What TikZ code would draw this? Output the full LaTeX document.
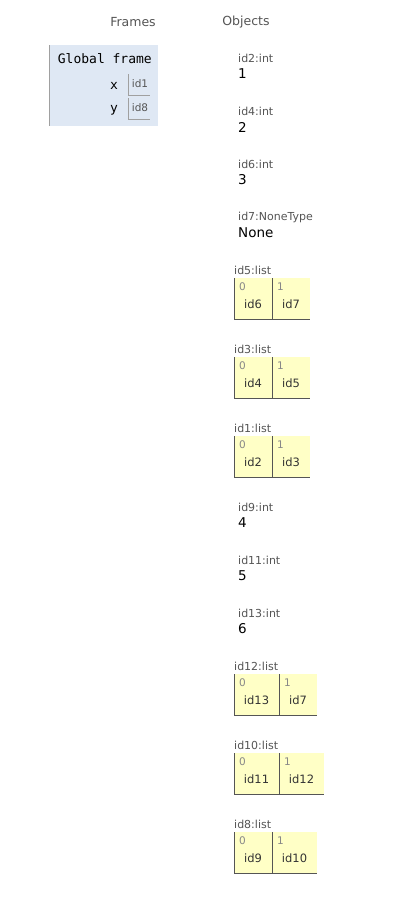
\documentclass[tikz,border=0pt]{standalone}
\usepackage{fontspec}
\setmainfont{DejaVu Sans}
\setmonofont{DejaVu Sans Mono}
\definecolor{framebg}{HTML}{DFE8F4}
\definecolor{framebd}{HTML}{A0A0A0}
\definecolor{listbg}{HTML}{FFFFC6}
\definecolor{listbd}{HTML}{555555}
\definecolor{lblgray}{HTML}{555555}
\definecolor{idxgray}{HTML}{888888}
\definecolor{refbd}{HTML}{A0A0A0}
\tikzset{
  hdr/.style={font=\fontsize{12.5}{14}\selectfont, text=lblgray, inner sep=0pt},
  typelbl/.style={font=\fontsize{11}{13}\selectfont, text=lblgray, anchor=west, inner sep=0pt},
  valtxt/.style={font=\fontsize{13.5}{15}\selectfont, text=black, anchor=west, inner sep=0pt},
  idxtxt/.style={font=\fontsize{10.5}{12}\selectfont, text=idxgray, anchor=west, inner sep=0pt},
  itemtxt/.style={font=\fontsize{11.5}{13}\selectfont, text=black!80, inner sep=0pt},
  monotxt/.style={font=\ttfamily\fontsize{13}{15}\selectfont, text=black, inner sep=0pt},
  reftxt/.style={font=\fontsize{10.5}{12}\selectfont, text=lblgray, inner sep=0pt},
  listline/.style={draw=listbd, line width=0.9pt},
  refline/.style={draw=refbd, line width=0.8pt}
}
\newcommand{\mklist}[6]{%
  \node[typelbl] (#1lbl) at (234,{#2-8}) {#1:list};
  \fill[listbg] (234,#2) rectangle (#4,{#2+41});
  \draw[listline] (234,#2) -- (234,{#2+41}) -- (#4,{#2+41});
  \draw[listline] (#3,#2) -- (#3,{#2+41});
  \node[idxtxt] (#1ia) at (239,{#2+9}) {0};
  \node[idxtxt] (#1ib) at ({#3+5},{#2+9}) {1};
  \node[itemtxt] (#1va) at ({(234+#3)/2},{#2+26}) {#5};
  \node[itemtxt] (#1vb) at ({(#3+#4)/2},{#2+26}) {#6};
}
\newcommand{\mkprim}[4]{%
  \node[typelbl] (#1lbl) at (238,#3) {#1:#2};
  \node[valtxt] (#1val) at (238,{#3+16}) {#4};
}
\begin{document}
\begin{tikzpicture}[x=1pt,y=-1pt]
\useasboundingbox[fill=white] (0,0) rectangle (400,906);
% headers
\node[hdr] (frameshdr) at (133,22) {Frames};
\node[hdr] (objectshdr) at (246,22) {Objects};
% global frame
\fill[framebg] (49,45) rectangle (158,126);
\draw[framebd, line width=1pt] (49,45) -- (49,126);
\node[monotxt, anchor=east] (gftitle) at (152,59) {Global frame};
\node[monotxt] (varx) at (114,86) {x};
\node[monotxt] (vary) at (114,110) {y};
\draw[refline] (128,74) -- (128,95) -- (150,95);
\draw[refline] (128,98) -- (128,119) -- (150,119);
\node[reftxt] (refx) at (140,84) {id1};
\node[reftxt] (refy) at (140,108) {id8};
% primitives
\mkprim{id2}{int}{58}{1}
\mkprim{id4}{int}{111}{2}
\mkprim{id6}{int}{164}{3}
\mkprim{id7}{NoneType}{217}{None}
% lists
\mklist{id5}{278}{272}{310}{id6}{id7}
\mklist{id3}{357}{272}{310}{id4}{id5}
\mklist{id1}{436}{272}{310}{id2}{id3}
\mkprim{id9}{int}{507}{4}
\mkprim{id11}{int}{560}{5}
\mkprim{id13}{int}{613}{6}
\mklist{id12}{674}{279}{317}{id13}{id7}
\mklist{id10}{753}{279}{324}{id11}{id12}
\mklist{id8}{832}{272}{317}{id9}{id10}
\end{tikzpicture}
\end{document}
